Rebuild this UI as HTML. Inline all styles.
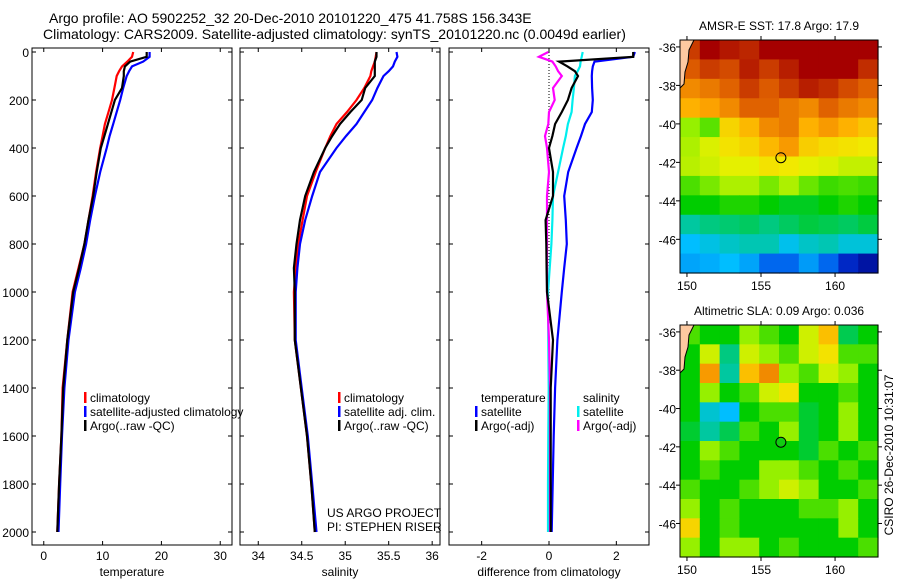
<!DOCTYPE html>
<html><head><meta charset="utf-8">
<style>
body{margin:0;background:#fff;width:900px;height:580px;overflow:hidden;}
svg text{font-family:"Liberation Sans",sans-serif;fill:#000;}
</style></head>
<body>
<svg id="fig" width="900" height="580" viewBox="0 0 900 580" xmlns="http://www.w3.org/2000/svg">
<text x="49" y="23" font-size="14">Argo profile: AO 5902252_32 20-Dec-2010 20101220_475 41.758S 156.343E</text>
<text x="43" y="39" font-size="14">Climatology: CARS2009. Satellite-adjusted climatology: synTS_20101220.nc (0.0049d earlier)</text>
<g id="g"></g>
</svg>
<script>
// ---- profile data ----
const depths = [0,20,40,60,80,100,150,200,250,300,350,400,500,600,700,800,900,1000,1200,1400,1600,1800,2000];
const tempClim = [15.2,15.0,14.2,13.3,12.8,12.4,12.0,11.6,11.0,10.4,10.0,9.6,8.9,8.3,7.6,6.9,5.9,4.9,4.0,3.2,3.0,2.6,2.3];
const tempSat  = [18.0,18.0,16.9,15.0,14.5,14.1,13.5,13.0,12.4,11.8,11.2,10.7,9.6,8.7,7.9,7.2,6.3,5.3,4.2,3.5,3.1,2.8,2.5];
const tempArgo = [17.5,17.5,14.7,13.8,13.6,13.6,13.3,12.1,11.5,10.9,10.3,9.7,9.0,8.4,7.6,6.9,6.0,5.0,4.0,3.3,3.0,2.6,2.3];
const salClim = [35.36,35.35,35.34,35.32,35.30,35.29,35.22,35.13,35.02,34.90,34.83,34.77,34.66,34.56,34.51,34.46,34.43,34.41,34.42,34.49,34.56,34.61,34.65];
const salSat  = [35.59,35.60,35.57,35.55,35.50,35.44,35.37,35.31,35.22,35.13,35.01,34.90,34.71,34.62,34.54,34.48,34.45,34.43,34.43,34.50,34.57,34.62,34.67];
const salArgo = [35.36,35.36,35.34,35.34,35.34,35.34,35.23,35.19,35.06,34.94,34.85,34.77,34.64,34.54,34.48,34.44,34.41,34.42,34.42,34.49,34.56,34.61,34.65];
const diffTSat  = [2.55,2.5,1.35,1.3,1.28,1.27,1.28,1.3,1.27,1.07,0.95,0.82,0.57,0.45,0.5,0.53,0.45,0.38,0.25,0.18,0.14,0.11,0.08];
const diffTArgo = [2.5,2.5,0.3,0.55,0.77,0.86,0.67,0.56,0.38,0.18,0.1,0.0,0.12,0.12,-0.1,-0.08,-0.07,-0.06,0.12,0.05,0.05,0.05,0.05];
const diffSSat  = [1.0,0.97,0.94,0.92,0.85,0.77,0.74,0.7,0.67,0.56,0.5,0.42,0.27,0.12,0.1,0.07,0.02,-0.03,-0.02,-0.01,-0.02,-0.03,-0.03];
const diffSArgo = [-0.02,-0.3,0.1,0.2,0.27,0.38,0.12,0.17,0.0,-0.02,-0.12,-0.06,0.0,-0.06,-0.06,-0.06,-0.06,-0.06,0.0,0.03,0.03,0.03,0.03];
const depthTicks = [0,200,400,600,800,1000,1200,1400,1600,1800,2000];
const tempTicks = [0,10,20,30];
const salTicks = [34,34.5,35,35.5,36];
const diffTicks = [-2,0,2];
// ---- map data (value 0..1 on colormap), rows top(-36) to bottom(-47.7) ----
const sstGrid = [
[0.92,1,0.97,0.95,1,1,1,1,1,1],
[0.88,0.92,0.9,0.96,0.92,0.96,1,1,1,0.94],
[0.82,0.84,0.87,0.92,0.88,0.92,0.96,0.94,0.9,0.87],
[0.77,0.79,0.82,0.87,0.87,0.84,0.82,0.87,0.84,0.82],
[0.6,0.56,0.72,0.76,0.82,0.84,0.77,0.8,0.77,0.74],
[0.62,0.66,0.7,0.72,0.76,0.8,0.73,0.71,0.7,0.69],
[0.63,0.65,0.67,0.67,0.7,0.69,0.67,0.66,0.64,0.64],
[0.55,0.58,0.62,0.62,0.58,0.62,0.57,0.54,0.55,0.54],
[0.5,0.5,0.52,0.52,0.5,0.48,0.48,0.5,0.52,0.5],
[0.4,0.42,0.43,0.44,0.42,0.44,0.46,0.45,0.44,0.46],
[0.3,0.33,0.36,0.38,0.38,0.32,0.36,0.38,0.34,0.34],
[0.27,0.28,0.3,0.27,0.2,0.2,0.26,0.2,0.1,0.05]];
const slaGrid = [
[0.55,0.5,0.5,0.6,0.55,0.5,0.65,0.75,0.45,0.5],
[0.5,0.65,0.42,0.65,0.6,0.55,0.65,0.7,0.55,0.55],
[0.5,0.8,0.4,0.75,0.82,0.6,0.55,0.65,0.6,0.5],
[0.5,0.6,0.5,0.55,0.65,0.7,0.5,0.5,0.55,0.5],
[0.5,0.35,0.3,0.5,0.55,0.55,0.47,0.5,0.6,0.5],
[0.47,0.4,0.45,0.55,0.5,0.6,0.47,0.5,0.6,0.5],
[0.5,0.6,0.55,0.5,0.5,0.5,0.47,0.55,0.5,0.55],
[0.5,0.55,0.5,0.5,0.6,0.6,0.55,0.5,0.55,0.5],
[0.55,0.5,0.5,0.55,0.6,0.65,0.6,0.5,0.5,0.55],
[0.6,0.5,0.55,0.5,0.5,0.5,0.55,0.55,0.6,0.5],
[0.72,0.5,0.55,0.5,0.5,0.5,0.5,0.5,0.6,0.5],
[0.6,0.5,0.6,0.6,0.5,0.55,0.5,0.5,0.5,0.55]];
const lonTicks = [150,155,160];
const latTicks = [-36,-38,-40,-42,-44,-46];
const argoLon = 156.343, argoLat = -41.758;

const NS="http://www.w3.org/2000/svg";
const G=document.getElementById('g');
function el(tag,attrs,parent){const e=document.createElementNS(NS,tag);for(const k in attrs)e.setAttribute(k,attrs[k]);(parent||G).appendChild(e);return e;}
const Y0=52, Y1=532; const yD=d=>Y0+(d/2000)*(Y1-Y0);
const TOP=48, BOT=545;

function panel(name,x0,x1,vmin,vmax,ticks,label,leftLabels){
  const sx=v=>x0+(v-vmin)/(vmax-vmin)*(x1-x0);
  const g=el('g',{});
  
  
  const r=el('rect',{x:x0,y:TOP,width:x1-x0,height:BOT-TOP,fill:'none',stroke:'#000','stroke-width':1},g);
  
  
  ticks.forEach(t=>{
    const x=sx(t);
    el('line',{x1:x,x2:x,y1:BOT,y2:BOT-4,stroke:'#000'},g);
    el('line',{x1:x,x2:x,y1:TOP,y2:TOP+4,stroke:'#000'},g);
    const tx=el('text',{x:x,y:BOT+15,'font-size':12,'text-anchor':'middle'},g);tx.textContent=t;
    
    
  });
  depthTicks.forEach(d=>{
    const y=yD(d);
    el('line',{x1:x0,x2:x0+4,y1:y,y2:y,stroke:'#000'},g);
    el('line',{x1:x1,x2:x1-4,y1:y,y2:y,stroke:'#000'},g);
    if(leftLabels){const tx=el('text',{x:x0-3,y:y+5,'font-size':12,'text-anchor':'end'},g);tx.textContent=d;
      
      }
  });
  const lb=el('text',{x:(x0+x1)/2,y:576,'font-size':12,'text-anchor':'middle'},g);lb.textContent=label;
  
  
  return sx;
}
function line(sx,vals,color,name){
  const pts=depths.map((d,i)=>sx(vals[i]).toFixed(1)+','+yD(d).toFixed(1)).join(' ');
  const p=el('polyline',{points:pts,fill:'none',stroke:color,'stroke-width':2.2,'stroke-linejoin':'miter'});
  
  
}
function legend(x,y,color,text,name){
  el('rect',{x:x,y:y-10,width:2.5,height:11,fill:color});
  const t=el('text',{x:x+6,y:y,'font-size':12});t.textContent=text;
  
  
}
const sT=panel('temperature',32,232,-2,32,tempTicks,'temperature',true);
line(sT,tempClim,'#f00','temp-climatology-line');
line(sT,tempSat,'#00f','temp-satellite-line');
line(sT,tempArgo,'#000','temp-argo-line');
legend(84,402,'#f00','climatology','temp-legend-climatology');
legend(84,416,'#00f','satellite-adjusted climatology','temp-legend-satellite');
legend(84,430,'#000','Argo(..raw -QC)','temp-legend-argo');

const sS=panel('salinity',240,440,33.79,36.09,salTicks,'salinity',false);
line(sS,salClim,'#f00','sal-climatology-line');
line(sS,salSat,'#00f','sal-satellite-line');
line(sS,salArgo,'#000','sal-argo-line');
legend(338,402,'#f00','climatology','sal-legend-climatology');
legend(338,416,'#00f','satellite adj. clim.','sal-legend-satellite');
legend(338,430,'#000','Argo(..raw -QC)','sal-legend-argo');
const c1=el('text',{x:327,y:517,'font-size':12});c1.textContent='US ARGO PROJECT';


const c2=el('text',{x:327,y:531,'font-size':12});c2.textContent='PI: STEPHEN RISER';



const sD=panel('difference',449,649,-2.97,2.97,diffTicks,'difference from climatology',false);
el('line',{x1:sD(0),x2:sD(0),y1:yD(0),y2:yD(2000),stroke:'#000','stroke-dasharray':'1,2'});
line(sD,diffSSat,'#0ee','diff-sal-satellite-line');
line(sD,diffSArgo,'#f0f','diff-sal-argo-line');
line(sD,diffTSat,'#00f','diff-temp-satellite-line');
line(sD,diffTArgo,'#000','diff-temp-argo-line');
const lt=el('text',{x:481,y:402,'font-size':12});lt.textContent='temperature';


legend(475,416,'#00f','satellite','diff-legend-temp-satellite');
legend(475,430,'#000','Argo(-adj)','diff-legend-temp-argo');
const ls=el('text',{x:583,y:402,'font-size':12});ls.textContent='salinity';


legend(577,416,'#0ee','satellite','diff-legend-sal-satellite');
legend(577,430,'#f0f','Argo(-adj)','diff-legend-sal-argo');

// ---- maps ----
const cmapStops=[[0,0,0,130],[0.15,0,60,230],[0.3,0,190,255],[0.4,0,200,160],[0.5,0,205,0],[0.6,150,240,0],[0.68,240,240,0],[0.78,255,170,0],[0.88,220,90,0],[1,165,0,0]];
function cmap(v){
  v=Math.max(0,Math.min(1,v));
  for(let i=1;i<cmapStops.length;i++){
    const a=cmapStops[i-1],b=cmapStops[i];
    if(v<=b[0]){const t=(v-a[0])/(b[0]-a[0]);
      return `rgb(${Math.round(a[1]+t*(b[1]-a[1]))},${Math.round(a[2]+t*(b[2]-a[2]))},${Math.round(a[3]+t*(b[3]-a[3]))})`;}
  }
  return 'rgb(165,0,0)';
}
const LON0=149.53, LON1=162.9, LAT0=-35.64, LAT1=-47.75;
function map(name,top,bot,grid,title,dotColor){
  const x0=680,x1=878;
  const sx=lon=>x0+(lon-LON0)/(LON1-LON0)*(x1-x0);
  const sy=lat=>top+(lat-LAT0)/(LAT1-LAT0)*(bot-top);
  const g=el('g',{});
  
  
  const rows=grid.length, cols=grid[0].length;
  const cw=(x1-x0)/cols, ch=(bot-top)/rows;
  grid.forEach((row,i)=>row.forEach((v,j)=>{
    const c=el('rect',{x:(x0+j*cw).toFixed(2),y:(top+i*ch).toFixed(2),width:(cw+0.6).toFixed(2),height:(ch+0.6).toFixed(2),fill:cmap(v)},g);
    
    
  }));
  const coast=el('path',{d:`M${x0},${top} L${x0+14},${top} L${x0+9},${top+10} L${x0+8},${top+22} L${x0+5},${top+32} L${x0+4},${top+44} L${x0},${top+48} Z`,fill:'#fdc9a0',stroke:'#000','stroke-width':1},g);
  
  
  el('rect',{x:x0,y:top,width:x1-x0,height:bot-top,fill:'none',stroke:'#000'},g);
  lonTicks.forEach(l=>{const x=sx(l);
    el('line',{x1:x,x2:x,y1:bot,y2:bot+4,stroke:'#000'},g);
    el('line',{x1:x,x2:x,y1:top,y2:top-4,stroke:'#000'},g);
    const t=el('text',{x:x,y:bot+17,'font-size':12,'text-anchor':'middle'},g);t.textContent=l;
    
    });
  latTicks.forEach(l=>{const y=sy(l);
    el('line',{x1:x0,x2:x0-4,y1:y,y2:y,stroke:'#000'},g);
    el('line',{x1:x1,x2:x1+4,y1:y,y2:y,stroke:'#000'},g);
    const t=el('text',{x:x0-4,y:y+5,'font-size':12,'text-anchor':'end'},g);t.textContent=l;
    
    });
  const ci=el('circle',{cx:sx(argoLon),cy:sy(argoLat),r:5,fill:dotColor,stroke:'#000','stroke-width':1},g);
  
  
  const tt=el('text',{x:(x0+x1)/2,y:top-10,'font-size':12,'text-anchor':'middle'},g);tt.textContent=title;
  
  
}
map('sst',40,273,sstGrid,'AMSR-E SST: 17.8 Argo: 17.9','none');
map('sla',325,557,slaGrid,'Altimetric SLA: 0.09 Argo: 0.036','#1c1');
const cs=el('text',{x:0,y:0,'font-size':12,'text-anchor':'middle',transform:'translate(893,455) rotate(-90)'});
cs.textContent='CSIRO 26-Dec-2010 10:31:07';


</script>
</body></html>
